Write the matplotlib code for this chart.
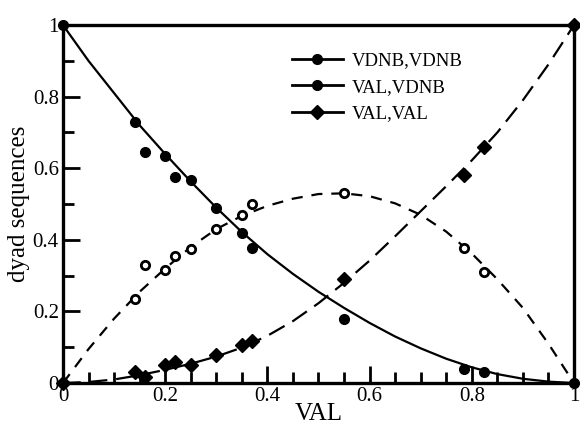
## Dyad sequence fractions vs VAL content, measured points with fitted curves

import numpy as np
import matplotlib.pyplot as plt
from matplotlib.lines import Line2D
from matplotlib.ticker import MultipleLocator

plt.rcParams['font.family'] = ['Liberation Serif', 'DejaVu Serif']

# measured compositions (VAL fraction)
val_meas = [0.14, 0.16, 0.20, 0.22, 0.25, 0.30, 0.35, 0.37, 0.55, 0.785, 0.824]

# measured dyad fractions
vdnb_vdnb = [0.73, 0.645, 0.635, 0.577, 0.567, 0.49, 0.42, 0.376, 0.18, 0.04, 0.03]
val_vdnb = [0.236, 0.33, 0.316, 0.355, 0.375, 0.43, 0.47, 0.50, 0.53, 0.377, 0.31]
val_val = [0.03, 0.018, 0.05, 0.06, 0.05, 0.077, 0.107, 0.118, 0.29, 0.58, 0.66]

# pure homopolymer end points
ends_x = [0.0, 1.0]
vdnb_vdnb_ends = [1.0, 0.0]
val_val_ends = [0.0, 1.0]

# fitted curves read at steps of 0.05
fit_x = [0.0, 0.05, 0.1, 0.15, 0.2, 0.25, 0.3, 0.35, 0.4, 0.45, 0.5,
         0.55, 0.6, 0.65, 0.7, 0.75, 0.8, 0.85, 0.9, 0.95, 1.0]
fit_vdnb_vdnb = [1.0, 0.9, 0.81, 0.72, 0.64, 0.563, 0.49, 0.422, 0.36, 0.305, 0.255,
                 0.21, 0.168, 0.13, 0.097, 0.068, 0.044, 0.025, 0.012, 0.004, 0.0]
fit_val_vdnb = [0.0, 0.095, 0.18, 0.255, 0.32, 0.38, 0.43, 0.467, 0.495, 0.515, 0.528,
                0.53, 0.522, 0.502, 0.47, 0.423, 0.362, 0.29, 0.21, 0.11, 0.0]
fit_val_val = [0.0, 0.003, 0.01, 0.022, 0.037, 0.054, 0.074, 0.099, 0.132, 0.173, 0.223,
               0.28, 0.342, 0.41, 0.48, 0.55, 0.622, 0.70, 0.79, 0.89, 1.0]

fig = plt.figure(figsize=(5.8, 4.28), dpi=100, facecolor='white')
ax = fig.add_axes([0.1086, 0.105, 0.881, 0.8364])

# fitted curves
ax.plot(fit_x, fit_vdnb_vdnb, color='k', lw=1.6, ls='-')
ax.plot(fit_x, fit_val_vdnb, color='k', lw=1.6, ls=(0, (5, 4)))
ax.plot(fit_x, fit_val_val, color='k', lw=1.6, ls=(0, (8, 4)))

# measured points
ax.plot(val_meas, vdnb_vdnb, 'o', color='k', ms=7, ls='none', clip_on=False)
ax.plot(val_meas, val_vdnb, 'o', mfc='white', mec='k', mew=2, ms=6, ls='none', clip_on=False)
ax.plot(val_meas, val_val, 'D', color='k', ms=7, ls='none', clip_on=False)
ax.plot(ends_x, vdnb_vdnb_ends, 'o', color='k', ms=7, ls='none', clip_on=False, zorder=5)
ax.plot(ends_x, val_val_ends, 'D', color='k', ms=7, ls='none', clip_on=False, zorder=5)

ax.set_xlim(0, 1)
ax.set_ylim(0, 1)
ax.set_xticks([0, 0.2, 0.4, 0.6, 0.8, 1.0])
ax.set_yticks([0, 0.2, 0.4, 0.6, 0.8, 1.0])
ax.set_xticklabels(['0', '0.2', '0.4', '0.6', '0.8', '1'])
ax.set_yticklabels(['0', '0.2', '0.4', '0.6', '0.8', '1'])
ax.xaxis.set_minor_locator(MultipleLocator(0.05))
ax.yaxis.set_minor_locator(MultipleLocator(0.1))
ax.tick_params(which='both', direction='in', width=2, labelsize=15, colors='k',
               top=False, right=False)
ax.tick_params(which='major', length=12, pad=3)
ax.tick_params(which='minor', length=8)
for s in ax.spines.values():
    s.set_linewidth(2.4)

ax.set_xlabel('VAL', fontsize=18, labelpad=-2)
ax.set_ylabel('dyad sequences', fontsize=18, labelpad=2)

handles = [
    Line2D([], [], color='k', lw=2, marker='o', ms=7),
    Line2D([], [], color='k', lw=2, marker='o', ms=7),
    Line2D([], [], color='k', lw=2, marker='D', ms=7),
]
ax.legend(handles, ['VDNB,VDNB', 'VAL,VDNB', 'VAL,VAL'], loc='upper left',
          bbox_to_anchor=(0.415, 0.972), frameon=False, fontsize=13.5,
          handlelength=2.7, handletextpad=0.5, labelspacing=0.5)

plt.savefig('out.png', dpi=100)
